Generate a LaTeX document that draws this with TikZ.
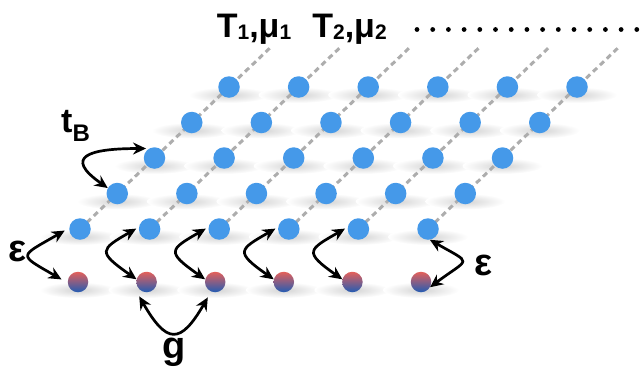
\documentclass[tikz,border=0pt]{standalone}
\usepackage{fontspec}
\setmainfont{Liberation Sans}
\usepackage{tikz}
\usetikzlibrary{arrows.meta,backgrounds}

\definecolor{dotblue}{RGB}{69,153,233}
\definecolor{dotred}{RGB}{228,96,90}
\definecolor{dotnavy}{RGB}{34,92,180}
\newcommand{\lowsub}[3][21]{\raisebox{#2}{\fontsize{#1}{#1}\selectfont #3}}

\tikzset{
  site/.style={circle,fill=dotblue,minimum size=21.5pt,inner sep=0pt},
  atom/.style={circle,top color=dotred,bottom color=dotnavy,minimum size=20.5pt,inner sep=0pt},
  flat/.style={inner color=black!17,outer color=white},
  lattice/.style={draw=black!32,line width=3pt,dash pattern=on 5.5pt off 4pt},
  hop/.style={{Stealth[length=13pt,width=12pt]}-{Stealth[length=13pt,width=12pt]},line width=2.7pt},
  lbl/.style={font=\bfseries\fontsize{34}{34}\selectfont,inner sep=0pt},
  big/.style={font=\bfseries\fontsize{38}{38}\selectfont,inner sep=0pt}
}

\begin{document}
\begin{tikzpicture}[x=1pt,y=1pt]
\useasboundingbox (0,0) rectangle (644,-370);
\foreach \r in {1,...,5}
  \foreach \c in {1,...,6}
    \node[site] (b\r\c) at ({80+69.6*(\c-1)+37.25*(\r-1)},{-229+35.5*(\r-1)}) {};
\foreach \c in {1,...,6}
  \node[atom] (r\c) at ({78+68.6*(\c-1)},-282) {};
\begin{scope}[on background layer]
\foreach \r in {1,...,5}
  \foreach \c in {1,...,6}
    \shade[flat] ([yshift=-8pt]b\r\c.center) ellipse [x radius=40pt,y radius=8pt];
\foreach \c in {1,...,6}
  \shade[flat] ([yshift=-8pt]r\c.center) ellipse [x radius=38pt,y radius=8pt];
\foreach \c in {1,...,6}
  \draw[lattice] (b1\c.center) -- ++(191.8,182.8) coordinate (t\c);
\end{scope}
\foreach \i in {0,...,14}
  \fill (417+15.7*\i,-29.5) circle (2.4pt);
\node[lbl,anchor=base] (T1) at (254,-37) {T\lowsub{-2pt}{1},μ\lowsub{-2pt}{1}};
\node[lbl,anchor=base] (T2) at (349.5,-37) {T\lowsub{-2pt}{2},μ\lowsub{-2pt}{2}};
\node[lbl,anchor=base west] (tB) at (61,-132) {t\lowsub[24]{-9pt}{B}};
\node[big] (eps1) at (18,-251) {ε};
\node[big] (eps2) at (484,-265) {ε};
\node[big,anchor=base] (g) at (174,-358) {g};
\draw[hop,shorten <=5pt,shorten >=7pt] (b11.175) .. controls +(210:58) and +(150:58) .. (r1.185);
\foreach \c in {2,...,5}
  \draw[hop,shorten <=3pt] (b1\c.170) .. controls +(210:45) and +(145:48) .. (r\c.165);
\draw[hop] (b16.280) .. controls +(-30:50) and +(37:50) .. (r6.-30);
\draw[hop] ([yshift=-7pt]r2.225) .. controls +(-60:55) and +(-120:55) .. ([yshift=-8pt]r3.225);
\draw[hop,shorten <=3pt] (b31.120) .. controls +(180:60) and +(145:55) .. (b21.150);
\end{tikzpicture}
\end{document}
